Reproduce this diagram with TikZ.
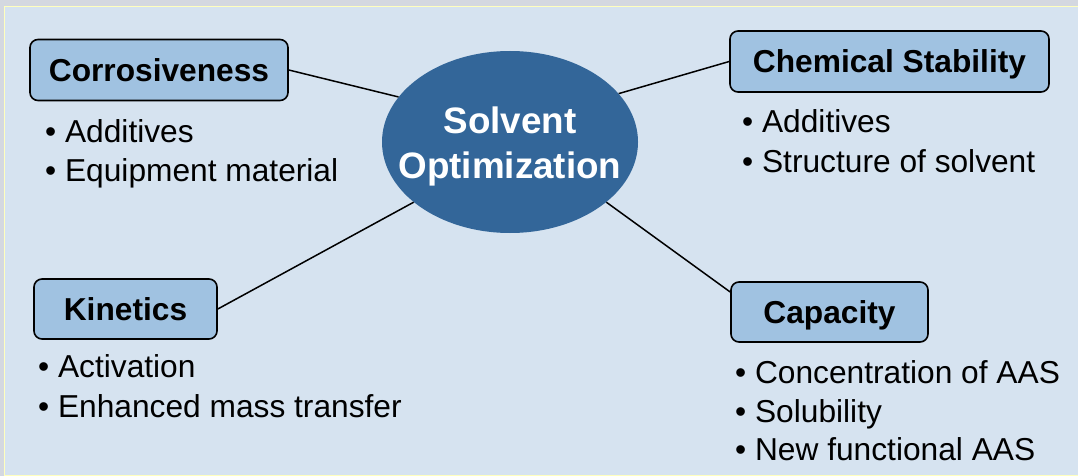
\documentclass[tikz,border=0pt]{standalone}
\usepackage{fontspec}
\setmainfont{Liberation Sans}
\usetikzlibrary{shapes.geometric}
\definecolor{outerbg}{RGB}{212,216,224}
\definecolor{framey}{RGB}{255,255,190}
\definecolor{panel}{RGB}{214,227,240}
\definecolor{boxfill}{RGB}{160,194,225}
\definecolor{ellfill}{RGB}{51,102,153}
\tikzset{
  topic/.style={draw=black, line width=1.6pt, rounded corners=8pt, fill=boxfill,
    inner sep=0pt, text depth=0pt, font=\fontsize{31.7}{38}\selectfont\bfseries},
  item/.style={anchor=base west, inner sep=0pt, font=\fontsize{31.7}{38}\selectfont},
  link/.style={draw=black, line width=1.5pt},
}
\begin{document}
\begin{tikzpicture}[x=1pt,y=-1pt]
\useasboundingbox (0,0) rectangle (1078,476);
\fill[outerbg] (0,0) rectangle (1078,476);
\filldraw[fill=panel, draw=framey, line width=1.5pt] (4.5,6.5) rectangle (1079,475.5);

\node[ellipse, fill=ellfill, minimum width=256pt, minimum height=182pt, inner sep=0pt] (ell) at (510,142) {};
\node[text=white, align=center, inner sep=0pt, font=\fontsize{36.8}{45}\selectfont\bfseries] (elltext) at (510,146) {Solvent\\Optimization};

\node[topic, minimum width=258pt, minimum height=61pt] (corr) at (159,70) {Corrosiveness};
\node[topic, minimum width=319pt, minimum height=61pt] (chem) at (889.5,61.5) {Chemical Stability};
\node[topic, minimum width=183pt, minimum height=60pt] (kin) at (125.5,309) {Kinetics};
\node[topic, minimum width=197pt, minimum height=60pt] (cap) at (829.5,312) {Capacity};

\draw[link] (corr.east) -- (ell.158.5);
\draw[link] (ell.24.9) -- (chem.west);
\draw[link] (kin.east) -- (ell.212.2);
\draw[link] (ell.328.4) -- ([yshift=20pt]cap.west);

\node[item] (corr1) at (45,142.5) {• Additives};
\node[item] (corr2) at (45,181) {• Equipment material};
\node[item] (chem1) at (742,132) {• Additives};
\node[item] (chem2) at (742,172) {• Structure of solvent};
\node[item] (kin1) at (38,377) {• Activation};
\node[item] (kin2) at (38,417) {• Enhanced mass transfer};
\node[item] (cap1) at (735,383) {• Concentration of AAS};
\node[item] (cap2) at (735,422) {• Solubility};
\node[item] (cap3) at (735,460) {• New functional AAS};
\end{tikzpicture}
\end{document}
